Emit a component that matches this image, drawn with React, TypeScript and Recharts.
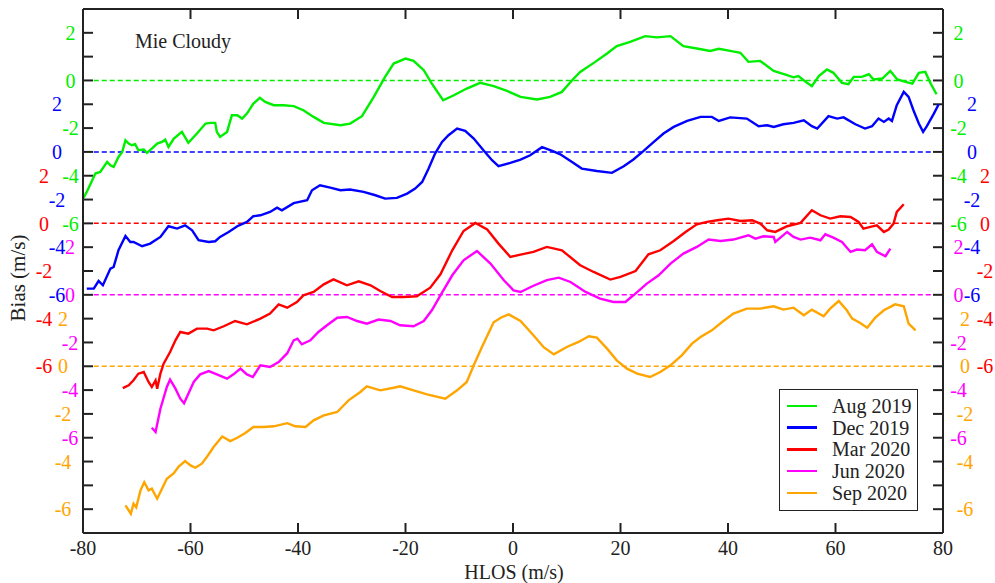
import { LineChart, Line, XAxis, YAxis, ReferenceLine } from 'recharts'

const W = 995
const H = 583
const margin = { top: 9, right: 52, bottom: 50, left: 83 }
const plotLeft = margin.left
const plotRight = W - margin.right
const plotTop = margin.top
const plotBottom = H - margin.bottom
const serif = "'Liberation Serif', 'Times New Roman', serif"
const ink = '#222'

const xDomain: [number, number] = [-80, 80]
const yDomain: [number, number] = [-19, 3]
const hlosTicks = [-80, -60, -40, -20, 0, 20, 40, 60, 80]
const innerHlosTicks = [-60, -40, -20, 0, 20, 40, 60]
// one tick per m/s row on the shared stacked axis
const rowTicks = [2, 1, 0, -1, -2, -3, -4, -5, -6, -7, -8, -9, -10, -11, -12, -13, -14, -15, -16, -17, -18]
const biasLabels = [2, 0, -2, -4, -6]

// tick marks are 10px long, expressed in axis units
const tickX = (10 * (xDomain[1] - xDomain[0])) / (plotRight - plotLeft)
const tickY = (10 * (yDomain[1] - yDomain[0])) / (plotBottom - plotTop)

type Pt = [number, number]

// [HLOS m/s, bias m/s]
const aug2019: Pt[] = [
  [-80, -4.96], [-79.3, -4.68], [-77.7, -3.91], [-76.8, -3.84], [-75.5, -3.42], [-74.9, -3.56], [-74.3, -3.63],
  [-73.4, -3.21], [-72.7, -3.0], [-72.1, -2.51], [-71.5, -2.65], [-70.9, -2.72], [-70.3, -2.68], [-69.7, -2.93],
  [-68.7, -2.9], [-68.1, -3.04], [-67.2, -2.86], [-66.2, -2.65], [-65.3, -2.58], [-64.7, -2.48], [-64.1, -2.79],
  [-63.1, -2.44], [-61.6, -2.16], [-60.4, -2.62], [-58.8, -2.23], [-57.2, -1.81], [-56.3, -1.78], [-55.4, -1.78],
  [-55.1, -2.16], [-54.5, -2.37], [-53.2, -2.16], [-52.3, -1.46], [-51.3, -1.46], [-50.4, -1.6], [-49.5, -1.39],
  [-48.3, -0.97], [-47.1, -0.73], [-46.1, -0.9], [-44.5, -1.04], [-42.7, -1.04], [-40.8, -1.08], [-39, -1.25],
  [-37.1, -1.53], [-35.2, -1.78], [-32.1, -1.88], [-30.3, -1.81], [-28.1, -1.5], [-25.9, -0.69], [-23.8, 0.15],
  [-22.2, 0.71], [-20, 0.92], [-18.5, 0.82], [-16.6, 0.43], [-15.1, -0.13], [-13, -0.83], [-11, -0.62],
  [-8.6, -0.34], [-6.1, -0.1], [-3.6, -0.24], [-1.1, -0.44], [1.4, -0.69], [4.5, -0.8], [6.9, -0.69],
  [9.1, -0.48], [11, 0.01], [12.5, 0.36], [15.3, 0.78], [17.5, 1.13], [19.3, 1.44], [21.8, 1.62], [24.6, 1.86],
  [26.8, 1.81], [29.3, 1.86], [31.7, 1.44], [34.2, 1.34], [36.7, 1.24], [38.3, 1.33], [40.4, 1.24], [42.3, 1.16],
  [43.8, 0.78], [46, 0.82], [48.5, 0.4], [51, 0.22], [52.2, 0.13], [53.1, 0.18], [54.7, -0.1], [55.6, -0.24],
  [56.9, 0.18], [58.4, 0.46], [59.6, 0.32], [61.2, -0.1], [62.4, -0.16], [63.4, 0.15], [64.9, 0.15], [66.2, 0.26],
  [67.1, 0.04], [68.7, 0.08], [70.2, 0.4], [71.5, 0.04], [73, -0.06], [74.3, -0.13], [75.5, 0.32], [76.7, 0.36],
  [77.7, -0.13], [78.8, -0.58],
]

const dec2019: Pt[] = [
  [-79.3, -5.74], [-78, -5.74], [-77.1, -5.42], [-76.3, -5.6], [-74.9, -4.9], [-74.3, -4.83], [-73.4, -4.13],
  [-72.1, -3.53], [-71.2, -3.78], [-70.6, -3.78], [-69, -3.96], [-67.5, -3.85], [-65.6, -3.57], [-64.1, -3.12],
  [-62.5, -3.22], [-61, -3.08], [-59.7, -3.29], [-58.5, -3.71], [-56.6, -3.78], [-55.4, -3.75], [-54.5, -3.57],
  [-52.9, -3.36], [-51.3, -3.12], [-49.5, -2.94], [-48.3, -2.7], [-47, -2.66], [-45.2, -2.52], [-43.9, -2.34],
  [-43, -2.45], [-40.8, -2.15], [-38.3, -2.03], [-37.4, -1.61], [-35.9, -1.4], [-34, -1.5], [-32.1, -1.61],
  [-30.3, -1.58], [-27.8, -1.68], [-25.6, -1.82], [-23.8, -1.96], [-21.6, -1.93], [-19.7, -1.75], [-18.2, -1.54],
  [-16.9, -1.26], [-15.7, -0.7], [-14.5, -0.07], [-13.2, 0.42], [-12, 0.7], [-10.4, 0.98], [-8.9, 0.88],
  [-7.3, 0.56], [-5.5, 0.07], [-3.9, -0.35], [-2.7, -0.6], [-0.5, -0.46], [1.4, -0.32], [3.2, -0.14], [5.4, 0.2],
  [7.3, 0.04], [8.8, -0.1], [10.7, -0.38], [12.8, -0.7], [15.6, -0.8], [18.4, -0.88], [20.6, -0.6], [22.4, -0.32],
  [24.3, 0.04], [26.2, 0.42], [28, 0.77], [29.9, 1.05], [32.4, 1.3], [34.9, 1.47], [37, 1.47], [38.3, 1.3],
  [40.4, 1.45], [43.5, 1.4], [45.7, 1.08], [47.3, 1.12], [48.5, 1.05], [50.3, 1.16], [52.2, 1.22], [54.1, 1.33],
  [55.6, 1.08], [56.6, 0.98], [58.7, 1.5], [60.3, 1.4], [61.5, 1.45], [63.7, 1.16], [65.5, 0.98], [66.8, 1.08],
  [68, 1.4], [69, 1.26], [69.9, 1.4], [70.5, 1.3], [71.4, 1.96], [72.7, 2.52], [73.6, 2.31], [74.5, 1.75],
  [75.5, 1.19], [76.3, 0.84], [77, 1.08], [78.3, 1.61], [79.2, 2.0],
]

const mar2020: Pt[] = [
  [-72.6, -6.92], [-71.5, -6.8], [-70.6, -6.59], [-69.7, -6.31], [-68.7, -6.24], [-67.8, -6.66], [-67.2, -6.87],
  [-66.5, -6.59], [-66.2, -6.94], [-65.6, -6.31], [-65, -5.89], [-63.8, -5.4], [-62.8, -4.91], [-61.9, -4.56],
  [-60.4, -4.63], [-58.8, -4.42], [-56.9, -4.42], [-55.7, -4.49], [-53.8, -4.32], [-51.7, -4.1], [-49.5, -4.24],
  [-47, -4.0], [-45.2, -3.79], [-43.6, -3.4], [-42, -3.54], [-40.2, -3.3], [-39, -3.02], [-37.1, -2.88],
  [-35.2, -2.56], [-33.4, -2.35], [-30.9, -2.6], [-28.7, -2.43], [-26.5, -2.6], [-24.7, -2.84], [-22.5, -3.09],
  [-20.4, -3.09], [-17.9, -3.06], [-15.4, -2.7], [-13.5, -2.14], [-11.3, -1.13], [-9.2, -0.32], [-7, 0.02],
  [-4.8, -0.26], [-2.7, -0.85], [-0.5, -1.41], [1.4, -1.31], [3.8, -1.2], [6.3, -0.99], [9.1, -1.13],
  [12.5, -1.76], [15, -2.04], [18.1, -2.36], [20, -2.25], [22.8, -2.0], [25.2, -1.3], [27.4, -1.13], [29.9, -0.74],
  [32.1, -0.36], [34.2, -0.04], [36.1, 0.06], [38, 0.13], [40.1, 0.2], [42.3, 0.1], [44.5, 0.13], [46, -0.01],
  [47.3, -0.29], [48.8, -0.36], [51, -0.12], [53.5, 0.02], [55.6, 0.55], [57.2, 0.34], [59, 0.2], [60.9, 0.3],
  [62.8, 0.27], [64.3, 0.06], [65.2, -0.22], [66.5, -0.15], [67.7, -0.08], [69, -0.36], [69.9, -0.26],
  [70.8, -0.01], [71.4, 0.48], [72.7, 0.8],
]

const jun2020: Pt[] = [
  [-67.2, -5.58], [-66.5, -5.76], [-65.6, -4.78], [-64.4, -3.87], [-63.8, -3.56], [-62.8, -3.94], [-61.9, -4.36],
  [-61.2, -4.55], [-60.4, -4.15], [-59.4, -3.66], [-58.2, -3.34], [-56.6, -3.2], [-55.1, -3.34], [-53.2, -3.52],
  [-52, -3.34], [-50.7, -3.1], [-49.5, -3.34], [-48.4, -3.45], [-47, -2.96], [-45.2, -3.03], [-43.6, -2.82],
  [-42, -2.45], [-40.8, -1.91], [-40.1, -1.84], [-39.3, -2.08], [-37.7, -1.91], [-36.2, -1.56], [-34.6, -1.28],
  [-32.7, -0.96], [-30.9, -0.93], [-29, -1.1], [-27.2, -1.21], [-25, -1.04], [-22.8, -1.1], [-21, -1.28],
  [-18.5, -1.32], [-16.6, -1.1], [-15.1, -0.65], [-13.5, -0.02], [-11.3, 0.82], [-9.2, 1.45], [-6.7, 1.84],
  [-4.2, 1.31], [-1.7, 0.61], [0.1, 0.19], [1.4, 0.12], [3.8, 0.38], [6.3, 0.62], [8.5, 0.72], [10.7, 0.54],
  [13.5, 0.12], [16.2, -0.16], [18.7, -0.3], [20.9, -0.3], [22.4, -0.02], [24.9, 0.47], [27.1, 0.82], [29.3, 1.31],
  [31.7, 1.73], [34.2, 2.01], [36.4, 2.32], [38.6, 2.26], [41, 2.32], [43.8, 2.5], [45.1, 2.36], [46.6, 2.46],
  [48.5, 2.43], [48.8, 2.22], [51, 2.64], [52.2, 2.43], [53.5, 2.32], [55.3, 2.4], [57.2, 2.29], [58.1, 2.54],
  [59.6, 2.4], [61.2, 2.22], [62.8, 1.8], [64, 1.9], [65.5, 1.87], [66.8, 2.12], [67.7, 1.8], [69.3, 1.62],
  [70.2, 1.94],
]

const sep2020: Pt[] = [
  [-72.1, -5.84], [-71.1, -6.19], [-70.6, -5.77], [-70.1, -5.92], [-69.3, -5.21], [-68.6, -4.87], [-67.8, -5.21],
  [-67.2, -5.14], [-66.2, -5.56], [-65.6, -5.28], [-64.4, -4.72], [-63.1, -4.49], [-62.2, -4.21], [-61, -3.98],
  [-60, -4.16], [-59.1, -4.26], [-57.9, -4.09], [-56.9, -3.79], [-55.7, -3.39], [-54.1, -2.95], [-52.6, -3.14],
  [-51.3, -3.0], [-49.8, -2.8], [-48.3, -2.55], [-46.4, -2.55], [-44.5, -2.52], [-42, -2.39], [-40.5, -2.52],
  [-38.6, -2.55], [-37.1, -2.27], [-35.2, -2.06], [-32.7, -1.92], [-30.6, -1.43], [-28.4, -1.08], [-27.2, -0.84],
  [-24.7, -1.01], [-22.2, -0.9], [-21, -0.84], [-18.5, -1.01], [-16, -1.18], [-12.6, -1.36], [-10.4, -1.01],
  [-8.6, -0.66], [-7.3, 0.04], [-5.8, 0.8], [-3.6, 1.85], [-2.2, 2.05], [-0.8, 2.18], [1.4, 1.9], [3.8, 1.3],
  [5.7, 0.8], [7.6, 0.5], [10, 0.81], [12.2, 1.02], [14.1, 1.26], [15.6, 1.2], [17.5, 0.74], [19.3, 0.25],
  [21.2, -0.1], [23.1, -0.31], [25.5, -0.45], [27.4, -0.24], [29.3, 0.04], [31.4, 0.46], [33.3, 0.95], [34.9, 1.23],
  [37, 1.51], [38.9, 1.86], [41, 2.21], [43.5, 2.42], [46, 2.42], [48.5, 2.52], [50.3, 2.38], [52.2, 2.46],
  [54.1, 2.14], [55.6, 2.38], [57.8, 2.1], [59, 2.42], [60.6, 2.74], [62.1, 2.35], [63.1, 2.0], [64.6, 1.82],
  [65.9, 1.62], [67.4, 2.04], [69, 2.35], [71.1, 2.6], [72.7, 2.52], [73.6, 1.79], [74.9, 1.51],
]

// each month is stacked 3 m/s below the previous one; leftDx/rightDx place its tick column
const series = [
  { name: 'Aug 2019', color: '#00ee00', shift: 0, points: aug2019, leftDx: -12.5, rightDx: 15.5 },
  { name: 'Dec 2019', color: '#0000ff', shift: -3, points: dec2019, leftDx: -26, rightDx: 29 },
  { name: 'Mar 2020', color: '#ff0000', shift: -6, points: mar2020, leftDx: -39, rightDx: 42 },
  { name: 'Jun 2020', color: '#ff00ff', shift: -9, points: jun2020, leftDx: -13, rightDx: 15.5 },
  { name: 'Sep 2020', color: '#ffa500', shift: -12, points: sep2020, leftDx: -20, rightDx: 22 },
]

// coloured labels of every month that has a value on this row
function RowLabels(props: any) {
  const { y, payload, side } = props
  const row = payload.value
  return (
    <g>
      {series.map((s) => {
        const v = row - s.shift
        if (!biasLabels.includes(v)) return null
        const x = side === 'left' ? plotLeft + s.leftDx : plotRight + s.rightDx
        return (
          <text key={s.name} x={x} y={y} dy="0.36em" textAnchor="middle" fill={s.color} fontSize={20} fontFamily={serif}>
            {v}
          </text>
        )
      })}
    </g>
  )
}

function HlosLabel(props: any) {
  const { x, payload } = props
  return (
    <text x={x} y={plotBottom + 15} dy="0.36em" textAnchor="middle" fill={ink} fontSize={20} fontFamily={serif}>
      {payload.value}
    </text>
  )
}

const axisLine = { stroke: ink, strokeWidth: 2 }

// short inward tick marks on all four sides of the frame
const tickSegments = [
  ...rowTicks.map((r) => [{ x: xDomain[0], y: r }, { x: xDomain[0] + tickX, y: r }]),
  ...rowTicks.map((r) => [{ x: xDomain[1], y: r }, { x: xDomain[1] - tickX, y: r }]),
  ...innerHlosTicks.map((t) => [{ x: t, y: yDomain[0] }, { x: t, y: yDomain[0] + tickY }]),
  ...innerHlosTicks.map((t) => [{ x: t, y: yDomain[1] }, { x: t, y: yDomain[1] - tickY }]),
]

export default function App() {
  return (
    <div style={{ position: 'absolute', left: 0, top: 0, width: W, height: H, background: '#fff', fontFamily: serif, color: ink }}>
      <LineChart width={W} height={H} margin={margin}>
        {/* mirrored axes take no space; labels come from the tick renderers */}
        <XAxis
          xAxisId="bottom"
          dataKey="x"
          type="number"
          domain={xDomain}
          ticks={hlosTicks}
          interval={0}
          height={20}
          mirror
          axisLine={axisLine}
          tickLine={false}
          tick={<HlosLabel />}
          allowDataOverflow
        />
        <XAxis
          xAxisId="top"
          orientation="top"
          type="number"
          domain={xDomain}
          ticks={hlosTicks}
          interval={0}
          height={20}
          mirror
          axisLine={axisLine}
          tickLine={false}
          tick={() => <g />}
          allowDataOverflow
        />
        <YAxis
          yAxisId="left"
          type="number"
          domain={yDomain}
          ticks={rowTicks}
          interval={0}
          width={20}
          mirror
          axisLine={axisLine}
          tickLine={false}
          tick={<RowLabels side="left" />}
          allowDataOverflow
        />
        <YAxis
          yAxisId="right"
          orientation="right"
          type="number"
          domain={yDomain}
          ticks={rowTicks}
          interval={0}
          width={20}
          mirror
          axisLine={axisLine}
          tickLine={false}
          tick={<RowLabels side="right" />}
          allowDataOverflow
        />
        {tickSegments.map((seg, i) => (
          <ReferenceLine
            key={'tick-' + i}
            xAxisId="bottom"
            yAxisId="left"
            segment={seg}
            stroke={ink}
            strokeWidth={2}
          />
        ))}
        {series.map((s) => (
          <ReferenceLine
            key={s.name + '-zero'}
            xAxisId="bottom"
            yAxisId="left"
            segment={[{ x: -78, y: s.shift }, { x: 78, y: s.shift }]}
            stroke={s.color}
            strokeWidth={1.5}
            strokeDasharray="5 3"
          />
        ))}
        {series.map((s) => (
          <Line
            key={s.name}
            xAxisId="bottom"
            yAxisId="left"
            data={s.points.map(([x, bias]) => ({ x, bias }))}
            dataKey={(d: any) => d.bias + s.shift}
            type="linear"
            stroke={s.color}
            strokeWidth={2.4}
            dot={false}
            isAnimationActive={false}
          />
        ))}
      </LineChart>

      <div style={{ position: 'absolute', left: 135, top: 41, transform: 'translateY(-50%)', fontSize: 20, whiteSpace: 'nowrap' }}>
        Mie Cloudy
      </div>
      <div style={{ position: 'absolute', left: 514, top: 572, transform: 'translate(-50%, -50%)', fontSize: 20, whiteSpace: 'nowrap' }}>
        HLOS (m/s)
      </div>
      <div style={{ position: 'absolute', left: 18, top: 278, transform: 'translate(-50%, -50%) rotate(-90deg)', fontSize: 21, whiteSpace: 'nowrap' }}>
        Bias (m/s)
      </div>

      <div style={{ position: 'absolute', left: 779, top: 389, width: 137, height: 120, border: `1.5px solid ${ink}`, background: '#fff' }}>
        {series.map((s, i) => (
          <div key={s.name} style={{ position: 'absolute', left: 0, top: 16 + i * 21.7, transform: 'translateY(-50%)', display: 'flex', alignItems: 'center' }}>
            <span style={{ display: 'inline-block', marginLeft: 7, width: 30, height: 2.5, background: s.color }} />
            <span style={{ marginLeft: 15, fontSize: 20, lineHeight: '22px', whiteSpace: 'nowrap' }}>{s.name}</span>
          </div>
        ))}
      </div>
    </div>
  )
}
